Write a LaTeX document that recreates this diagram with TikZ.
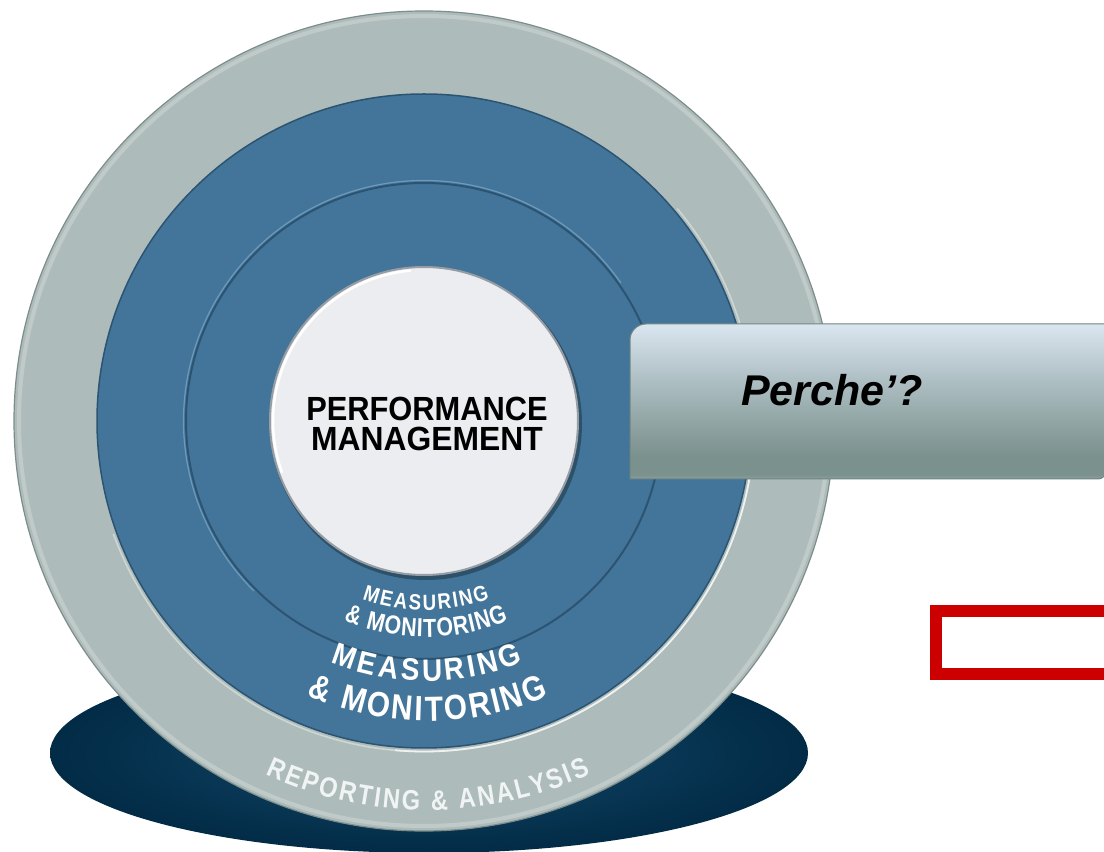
\documentclass[tikz,border=0pt]{standalone}
\usepackage{fontspec}
\setmainfont{Liberation Sans}
\usetikzlibrary{calc}
\definecolor{ringgrey}{HTML}{ADBCBA}
\definecolor{ringgreyedge}{HTML}{7D8D8B}
\definecolor{ringblue}{HTML}{427599}
\definecolor{blueedge}{HTML}{2C5472}
\definecolor{bluehi}{HTML}{78A4C4}
\definecolor{discfill}{HTML}{ECEDF0}
\definecolor{discedge}{HTML}{979DA4}
\definecolor{shadowin}{HTML}{12496B}
\definecolor{shadowout}{HTML}{022B46}
\definecolor{reptext}{HTML}{F1F4F4}
\definecolor{boxtop}{HTML}{DAE6F0}
\definecolor{boxmid}{HTML}{AFC0C5}
\definecolor{boxlow}{HTML}{8FA3A2}
\definecolor{boxbot}{HTML}{7B918D}
\definecolor{boxrim}{HTML}{8D9F9D}
\definecolor{boxedge}{HTML}{6F8683}
\definecolor{redframe}{HTML}{CC0000}
% TikZ maps the path onto the band 25bp..75bp of a 100bp shading
\pgfdeclareverticalshading{boxshading}{100bp}{color(0bp)=(boxrim); color(25bp)=(boxrim); color(26.5bp)=(boxbot); color(32bp)=(boxbot); color(42.5bp)=(boxlow); color(57.5bp)=(boxmid); color(75bp)=(boxtop); color(100bp)=(boxtop)}
% #1 radius, #2 font size, #3 horizontal scale, #4 tracking (em), #5 colour, #6 cx, #7 cy, #8 list char/width
\newcommand\arcchars[8]{%
  \gdef\arctot{0}%
  \foreach \c/\w in {#8} {\pgfmathsetmacro\arctmp{\arctot+\w*#3+#4}\global\let\arctot\arctmp}%
  \foreach \c/\w [evaluate=\w as \cum using \prev+\w*#3+#4, remember=\cum as \prev (initially 0)] in {#8} {%
    \pgfmathsetmacro\ang{270+((\prev+(\w*#3+#4)/2)-\arctot/2)*#2/#1*57.29578}%
    \node[font=\fontsize{#2}{#2}\selectfont\bfseries, text=#5, inner sep=0pt, anchor=base, rotate=\ang-270]
      at ({#6+#1*cos(\ang)},{#7+#1*sin(\ang)}) {\scalebox{#3}[1]{\c}};
  }}
\tikzset{
  pmtext/.style={font=\fontsize{33.5}{33.5}\selectfont\bfseries, inner sep=0pt, text=black, anchor=base},
  whytext/.style={font=\fontsize{43}{43}\selectfont\bfseries\itshape, inner sep=0pt, text=black, anchor=base west},
  redbox/.style={draw=redframe, line width=11.5pt}
}
\begin{document}
\begin{tikzpicture}[x=1pt,y=1pt]
\useasboundingbox (0,0) rectangle (1104,852);
\clip (0,0) rectangle (1104,852);
\fill[white] (0,0) rectangle (1104,852);
\coordinate (C) at (424,431);
% shadow ellipse
\shade[inner color=shadowin, outer color=shadowout] (429,99) ellipse[x radius=379, y radius=100];
% outer grey ring
\fill[ringgrey] (C) circle[radius=410];
\draw[white, opacity=0.22, line width=4pt] (C) circle[radius=405];
\draw[ringgreyedge, line width=1.2pt] (C) circle[radius=410];
% blue disc
\fill[ringblue] (C) circle[radius=327];
\draw[blueedge, line width=1.5pt] (C) circle[radius=327];
\draw[white, opacity=0.4, line width=1.6pt] ($(C)+(200:330.5)$) arc[start angle=200, end angle=400, radius=330.5];
\draw[white, opacity=0.7, line width=1.8pt] ($(C)+(-95:330.5)$) arc[start angle=-95, end angle=15, radius=330.5];
% inner ring boundary
\draw[blueedge, line width=2pt] (C) circle[radius=238];
\draw[bluehi, opacity=0.8, line width=1.2pt] ($(C)+(35:240.5)$) arc[start angle=35, end angle=225, radius=240.5];
% centre disc
\fill[black, opacity=0.3] (426,428) circle[radius=156];
\fill[discfill] (C) circle[radius=154];
\draw[discedge, line width=2pt] (C) circle[radius=154];
\draw[white, line width=2.5pt] ($(C)+(95:151)$) arc[start angle=95, end angle=200, radius=151];
% centre text
\node[pmtext] (pm1) at (427,431) {\scalebox{0.92}[1]{PERFORMANCE}};
\node[pmtext] (pm2) at (427,401) {\scalebox{0.95}[1]{MANAGEMENT}};
% ring texts
\arcchars{189}{22}{0.85}{0.09}{white}{426}{431}{M/.833,E/.667,A/.722,S/.667,U/.722,R/.722,I/.278,N/.722,G/.778}
\arcchars{216}{26}{0.82}{0.032}{white}{426}{431}{\&/.722,{}/.278,M/.833,O/.778,N/.722,I/.278,T/.611,O/.778,R/.722,I/.278,N/.722,G/.778}
\arcchars{260}{31}{0.9}{0.108}{white}{427}{431}{M/.833,E/.667,A/.722,S/.667,U/.722,R/.722,I/.278,N/.722,G/.778}
\arcchars{300}{35}{0.85}{0.068}{white}{428}{431}{\&/.722,{}/.278,M/.833,O/.778,N/.722,I/.278,T/.611,O/.778,R/.722,I/.278,N/.722,G/.778}
\arcchars{389}{28}{0.85}{0.082}{reptext}{428}{431}{R/.722,E/.667,P/.667,O/.778,R/.722,T/.611,I/.278,N/.722,G/.778,{}/.278,\&/.722,{}/.278,A/.722,N/.722,A/.722,L/.611,Y/.667,S/.667,I/.278,S/.667}
% right box
\shadedraw[shading=boxshading, draw=boxedge, line width=1pt]
  (630,373) -- (630,512) arc[start angle=180, end angle=90, radius=16]
  -- (1106,528) -- (1106,381) arc[start angle=0, end angle=-90, radius=8] -- cycle;
\node[whytext] (why) at (741,446) {Perche’?};
% red frame
\draw[redbox] (936,241) rectangle (1130,178);
\end{tikzpicture}
\end{document}
